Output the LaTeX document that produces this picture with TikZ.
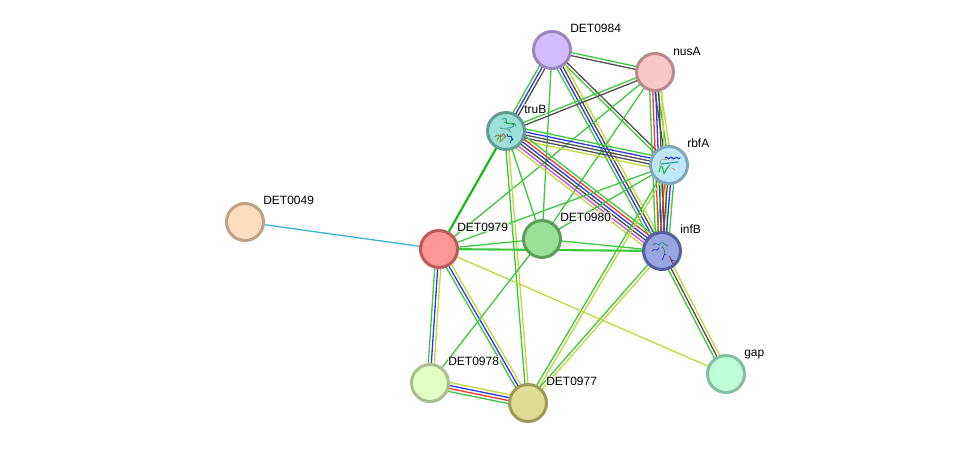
\documentclass[tikz,border=0pt]{standalone}
\usepackage{fontspec}
\setmainfont{Liberation Sans}
\usetikzlibrary{calc,backgrounds}
\definecolor{lgreen}{HTML}{3CC83C}
\definecolor{lblue}{HTML}{3038E8}
\definecolor{lblack}{HTML}{505050}
\definecolor{lyellow}{HTML}{BFD83A}
\definecolor{lred}{HTML}{F0383A}
\definecolor{lmag}{HTML}{D848DE}
\definecolor{lcyan}{HTML}{35B5D5}
\definecolor{ldark}{HTML}{10B810}
\tikzset{
  x=1pt,y=-1pt,
  prot/.style={circle,minimum size=37pt,inner sep=0pt,line width=3pt},
  lab/.style={anchor=base west,font=\fontsize{12}{12}\selectfont,inner sep=0.6pt,fill=white,fill opacity=0.65,text opacity=1},
  link/.style={line width=1.3pt},
  paired/.style={line width=2.1pt},
  ribbon/.style={line cap=round,line join=round,opacity=0.75},
}
% A bundle of parallel evidence lines; colours are listed from the right of a->b to its left.
\newcommand\bundle[3]{%
  \foreach \c [count=\k] in {#3} {\xdef\bundlesize{\k}}%
  \foreach \c [count=\i] in {#3} {%
    \pgfmathsetmacro\off{(\i-(\bundlesize+1)/2)*3}%
    \draw[link,\c] ($(#1)!\off pt!90:(#2)$) -- ($(#2)!\off pt!-90:(#1)$);
  }%
}
\begin{document}
\begin{tikzpicture}
\useasboundingbox (0,0) rectangle (975,448);
% proteins
\node[prot,fill={rgb,255:red,210;green,190;blue,255},draw={rgb,255:red,154;green,133;blue,192}] (d984) at (552,50) {};
\node[prot,fill={rgb,255:red,248;green,200;blue,200},draw={rgb,255:red,184;green,138;blue,138}] (nusA) at (655,72) {};
\node[prot,fill={rgb,255:red,155;green,224;blue,212},draw={rgb,255:red,95;green,158;blue,149}] (truB) at (506,131) {};
\node[prot,fill={rgb,255:red,192;green,232;blue,251},draw={rgb,255:red,127;green,168;blue,191}] (rbfA) at (669,165) {};
\node[prot,fill={rgb,255:red,255;green,221;blue,191},draw={rgb,255:red,191;green,161;blue,131}] (d049) at (245,222) {};
\node[prot,fill={rgb,255:red,255;green,150;blue,150},draw={rgb,255:red,190;green,90;blue,90}] (d979) at (439,249) {};
\node[prot,fill={rgb,255:red,155;green,224;blue,150},draw={rgb,255:red,94;green,158;blue,90}] (d980) at (542,239) {};
\node[prot,fill={rgb,255:red,152;green,165;blue,224},draw={rgb,255:red,84;green,96;blue,160}] (infB) at (662,251) {};
\node[prot,fill={rgb,255:red,225;green,255;blue,197},draw={rgb,255:red,169;green,191;blue,141}] (d978) at (430,383) {};
\node[prot,fill={rgb,255:red,224;green,220;blue,150},draw={rgb,255:red,158;green,155;blue,88}] (d977) at (528,403) {};
\node[prot,fill={rgb,255:red,190;green,255;blue,216},draw={rgb,255:red,130;green,191;blue,158}] (gap) at (726,374) {};
% small ribbon sketches inside the three proteins with known structures
\begin{scope}[shift={(506,131)},ribbon,line width=0.9pt]
  \draw[teal] (-4,-12) .. controls (6,-14) and (-6,-6) .. (6,-7) .. controls (11,-7) and (6,-2) .. (1,-3);
  \draw[green!60!black] (-2,-9) .. controls (5,-6) and (8,-10) .. (10,-5);
  \draw[brown!70!black] (-11,6) .. controls (-7,0) and (-6,10) .. (-3,3) .. controls (-2,0) and (-1,9) .. (0,5);
  \draw[olive] (-9,9) -- (-5,3) -- (-6,11) -- (-1,6);
  \draw[blue!70!black] (1,3) .. controls (3,10) and (5,1) .. (6,8) .. controls (7,12) and (8,3) .. (4,12);
  \draw[cyan!60!black] (-6,-3) .. controls (-1,-1) and (2,-4) .. (5,1);
\end{scope}
\begin{scope}[shift={(669,165)},ribbon,line width=1.2pt]
  \draw[blue!80!black] (-4,-7) .. controls (-2,-10) and (-1,-4) .. (1,-7) .. controls (3,-10) and (4,-4) .. (6,-7) .. controls (8,-9) and (9,-5) .. (11,-7);
  \draw[teal] (-8,-1) -- (9,-3);
  \draw[green!70!black] (-10,7) .. controls (-8,-3) and (-6,2) .. (-5,9) .. controls (-3,5) and (-2,3) .. (1,0);
  \draw[olive,line width=0.6pt] (-2,-5) .. controls (-8,-8) and (-10,-3) .. (-9,2);
  \draw[orange!70!black,line width=0.6pt] (3,3) -- (6,5);
\end{scope}
\begin{scope}[shift={(662,251)},ribbon,line width=0.7pt]
  \draw[teal] (-9,-6) .. controls (-5,-11) and (-4,-3) .. (-1,-8) .. controls (2,-11) and (3,-3) .. (6,-6);
  \draw[blue!70!black] (-10,0) .. controls (-7,-4) and (-6,2) .. (-3,-3);
  \draw[green!50!black] (0,-4) .. controls (4,-2) and (1,2) .. (4,4);
  \draw[blue!80!black] (3,3) .. controls (0,6) and (3,7) .. (0,9);
  \draw[purple!60!black] (7,5) .. controls (10,7) and (8,10) .. (13,10) (9,9) -- (11,13);
\end{scope}
% interaction lines, kept underneath the proteins
\begin{scope}[on background layer]
  \bundle{d049}{d979}{lcyan}
  \bundle{d984}{nusA}{lblack,lgreen}
  \bundle{d984}{truB}{lgreen,lblue,lblack}
  \bundle{d984}{rbfA}{lgreen,lblack}
  \bundle{d984}{infB}{lgreen,lblue,lblack,lyellow}
  \bundle{d984}{d980}{lgreen}
  \bundle{nusA}{truB}{lgreen,lblack}
  \bundle{nusA}{d979}{lgreen}
  \bundle{nusA}{d980}{lgreen}
  \bundle{nusA}{rbfA}{lblack,lgreen,lyellow}
  \bundle{nusA}{infB}{lgreen,lred,lblue,lblack,lyellow}
  \bundle{truB}{rbfA}{lyellow,lblack,lblack,lblue,lgreen}
  \bundle{truB}{infB}{lyellow,lmag,lblack,lblue,lred,lgreen}
  \draw[paired,ldark] (truB) -- (d979);
  \bundle{truB}{d980}{lgreen}
  \bundle{truB}{d977}{lgreen,lyellow}
  \bundle{rbfA}{infB}{lgreen,lred,lblack,lblue,lgreen}
  \bundle{rbfA}{d979}{lgreen}
  \bundle{rbfA}{d980}{lgreen}
  \bundle{rbfA}{d977}{lgreen,lyellow}
  \bundle{infB}{d977}{lgreen,lyellow}
  \bundle{infB}{d980}{lgreen}
  \draw[paired,lgreen] (d979) -- (infB);
  \bundle{infB}{gap}{lgreen,lblack,lyellow}
  \bundle{d979}{d980}{lgreen}
  \bundle{d979}{gap}{lyellow}
  \bundle{d979}{d978}{lgreen,lblue,lyellow}
  \bundle{d979}{d977}{lgreen,lblue,lyellow}
  \bundle{d980}{d978}{lgreen}
  \bundle{d978}{d977}{lgreen,lred,lblue,lyellow}
\end{scope}
% names
\node[lab] (t984) at (569.5,32) {DET0984};
\node[lab] (tnus) at (672.5,55) {nusA};
\node[lab] (ttru) at (523.5,113) {truB};
\node[lab] (trbf) at (686.5,147) {rbfA};
\node[lab] (tinf) at (679.5,233) {infB};
\node[lab] (t980) at (559.5,221) {DET0980};
\node[lab] (t979) at (456.5,231) {DET0979};
\node[lab] (t049) at (262.5,204) {DET0049};
\node[lab] (t978) at (447.5,365) {DET0978};
\node[lab] (t977) at (545.5,385) {DET0977};
\node[lab] (tgap) at (743.5,356) {gap};
\end{tikzpicture}
\end{document}
